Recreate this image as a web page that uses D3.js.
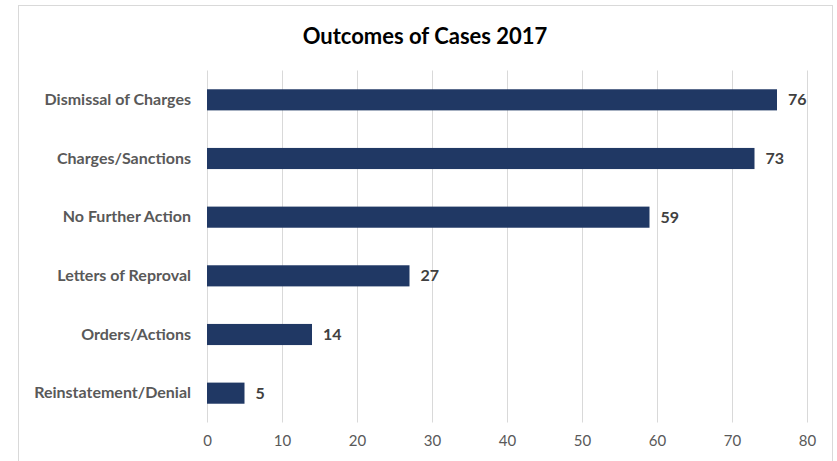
<!DOCTYPE html>
<html>
<head>
<meta charset="utf-8">
<script src="https://cdn.jsdelivr.net/npm/d3@7"></script>
<style>
  html, body { margin: 0; padding: 0; background: #fff; }
  svg { display: block; }
</style>
</head>
<body>
<svg id="chart" width="837" height="461"></svg>
<script>
// Outcome categories, top to bottom, and their case counts
const categories = ["Dismissal of Charges", "Charges/Sanctions", "No Further Action",
                    "Letters of Reproval", "Orders/Actions", "Reinstatement/Denial"];
const counts = [76, 73, 59, 27, 14, 5];
const xTicks = [0, 10, 20, 30, 40, 50, 60, 70, 80];
const title = "Outcomes of Cases 2017";

const font = "Lato, 'Open Sans', sans-serif";
const svg = d3.select("#chart");

// Chart frame
svg.append("rect")
  .attr("x", 18.5).attr("y", 5.5)
  .attr("width", 814).attr("height", 470)
  .attr("fill", "#fff").attr("stroke", "#d9d9d9").attr("stroke-width", 1);

const plot = { left: 207, right: 807, top: 70.5, bottom: 422.5 };

const x = d3.scaleLinear().domain([0, 80]).range([plot.left, plot.right]);
const y = d3.scaleBand().domain(categories).range([plot.top, plot.bottom]).paddingInner(0.64).paddingOuter(0.32);

// Vertical gridlines
svg.append("g").selectAll("line").data(xTicks).join("line")
  .attr("x1", d => Math.round(x(d)) + 0.5).attr("x2", d => Math.round(x(d)) + 0.5)
  .attr("y1", plot.top).attr("y2", plot.bottom)
  .attr("stroke", "#d9d9d9").attr("stroke-width", 1);

// Bottom axis labels
const xAxis = d3.axisBottom(x).tickValues(xTicks).tickSize(0).tickPadding(0);
const gx = svg.append("g").attr("transform", `translate(0, ${plot.bottom + 13})`).call(xAxis);
gx.select(".domain").remove();
gx.selectAll("text").attr("font-family", font).attr("font-size", 15).attr("fill", "#595959");

// Category axis labels
const yAxis = d3.axisLeft(y).tickSize(0).tickPadding(16);
const gy = svg.append("g").attr("transform", `translate(${plot.left}, 0)`).call(yAxis);
gy.select(".domain").remove();
gy.selectAll("text").attr("font-family", font).attr("font-size", 16).attr("font-weight", "bold").attr("fill", "#595959");

// Bars
svg.append("g").selectAll("rect").data(categories).join("rect")
  .attr("x", x(0))
  .attr("y", d => y(d))
  .attr("width", (d, i) => x(counts[i]) - x(0))
  .attr("height", y.bandwidth())
  .attr("fill", "#203864");

// Value labels
svg.append("g").selectAll("text").data(categories).join("text")
  .attr("x", (d, i) => x(counts[i]) + 11)
  .attr("y", d => y(d) + y.bandwidth() / 2)
  .attr("dy", "0.35em")
  .attr("font-family", font).attr("font-size", 16).attr("font-weight", "bold")
  .attr("fill", "#404040")
  .text((d, i) => counts[i]);

// Title
svg.append("text")
  .attr("x", 425).attr("y", 44)
  .attr("text-anchor", "middle")
  .attr("font-family", font).attr("font-size", 22).attr("font-weight", "bold")
  .attr("fill", "#000")
  .text(title);
</script>
</body>
</html>
